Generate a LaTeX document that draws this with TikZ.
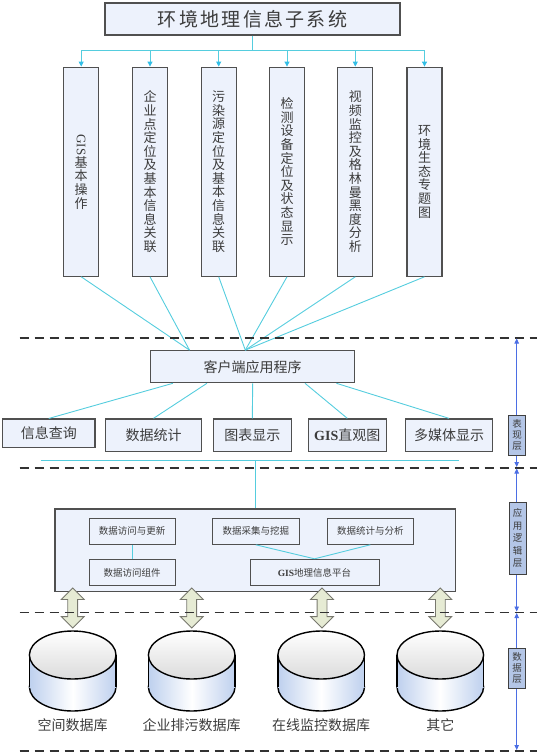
\documentclass[tikz,border=0pt]{standalone}
\usepackage{fontspec}
\setmainfont{Noto Sans CJK SC}
\newfontfamily\lat{Liberation Serif}
\newfontfamily\cjkwide{Noto Sans CJK SC}[LetterSpace=12]
\usetikzlibrary{arrows.meta,shapes.arrows,calc}
\definecolor{boxfill}{RGB}{237,242,252}
\definecolor{boxline}{RGB}{80,80,80}
\definecolor{txt}{RGB}{60,60,60}
\definecolor{cyanline}{RGB}{85,205,222}
\definecolor{cyanhead}{RGB}{50,190,230}
\definecolor{sepline}{RGB}{50,50,50}
\definecolor{layerblue}{RGB}{75,110,228}
\definecolor{layerfill}{RGB}{180,198,231}
\definecolor{cylblue}{RGB}{190,208,238}
\definecolor{fatfill}{RGB}{230,235,212}
\definecolor{fatline}{RGB}{120,120,110}
\newcommand\dbcyl[1]{%
  \draw[cylline, left color=cylblue, right color=cylblue, middle color=white] (#1,687) ellipse [x radius=43.3, y radius=24];
  \fill[left color=cylblue, right color=cylblue, middle color=white] (#1-43.3,655) rectangle (#1+43.3,687);
  \draw[cylline] (#1-43.3,655) -- (#1-43.3,687) (#1+43.3,655) -- (#1+43.3,687);
  \draw[cylline, top color=white, bottom color=gray!28] (#1,655) ellipse [x radius=43.3, y radius=24];
}
\begin{document}
\begin{tikzpicture}[x=1pt,y=-1pt,
  box/.style={draw=boxline, fill=boxfill, line width=1.2pt, text=txt, inner sep=0pt, align=center},
  vbox/.style={box, minimum width=35pt, minimum height=209pt, font=\fontsize{13}{13.6}\selectfont},
  rowbox/.style={box, minimum height=32.7pt, font=\fontsize{14}{14}\selectfont},
  smallbox/.style={box, minimum height=26pt, line width=1pt, font=\fontsize{9.5}{9.5}\selectfont},
  conn/.style={draw=cyanline, line width=0.9pt},
  tip/.style={-{Triangle[length=5pt,width=5pt,color=cyanhead]}},
  sep/.style={draw=sepline, line width=1.6pt, dash pattern=on 9.5pt off 5.5pt},
  layer/.style={draw=layerblue, line width=0.8pt, {Triangle[length=5pt,width=4.5pt]}-{Triangle[length=5pt,width=4.5pt]}},
  layerbox/.style={draw=black!75, fill=layerfill, line width=0.8pt, inner sep=0pt, minimum width=17pt, text=txt, align=center, font=\fontsize{9.5}{11}\selectfont},
  fat/.style={double arrow, shape border rotate=90, draw=fatline, fill=fatfill, line width=0.8pt, inner sep=4.5pt, minimum height=40pt, double arrow head extend=6.5pt},
  cylline/.style={draw=black, line width=1.4pt},
  dblabel/.style={text=txt, font=\fontsize{14}{14}\selectfont}
]
\useasboundingbox (0,0) rectangle (537,754);

% title and top boxes
\node[box, minimum width=295pt, minimum height=32pt, font=\cjkwide\fontsize{19}{19}\selectfont] (title) at (252.5,19) {环境地理信息子系统};
\node[vbox] (b1) at (81.2,171.7) {\rotatebox{-90}{\lat GIS}\\基\\本\\操\\作};
\node[vbox] (b2) at (150,171.7) {企\\业\\点\\定\\位\\及\\基\\本\\信\\息\\关\\联};
\node[vbox] (b3) at (218.7,171.7) {污\\染\\源\\定\\位\\及\\基\\本\\信\\息\\关\\联};
\node[vbox] (b4) at (287,171.7) {检\\测\\设\\备\\定\\位\\及\\状\\态\\显\\示};
\node[vbox] (b5) at (355.3,171.7) {视\\频\\监\\控\\及\\格\\林\\曼\\黑\\度\\分\\析};
\node[vbox] (b6) at (424.5,171.7) {环\\境\\生\\态\\专\\题\\图};

\coordinate (tbus) at (0,50.7);
\draw[conn] (title.south) -- (title.south |- tbus);
\draw[conn] (b1.north |- tbus) -- (b6.north |- tbus);
\foreach \b in {b1,b2,b3,b4,b5,b6} {\draw[conn, tip] (\b.north |- tbus) -- (\b.north);}

% client
\node[box, minimum width=204pt, minimum height=32pt, font=\fontsize{14}{14}\selectfont] (client) at (252.7,366.7) {客户端应用程序};
\coordinate (cA) at ($(client.north west)!0.192!(client.north east)$);
\coordinate (cB) at ($(client.north west)!0.464!(client.north east)$);
\draw[conn] (b1.south) -- (cA);
\draw[conn] (b2.south) -- (cA);
\foreach \b in {b3,b4,b5,b6} {\draw[conn] (\b.south) -- (cB);}

% row 2
\node[rowbox, minimum width=92.3pt, minimum height=28.3pt] (r1) at (48.8,433.2) {信息查询};
\node[rowbox, minimum width=96.4pt] (r2) at (153.5,435.3) {数据统计};
\node[rowbox, minimum width=78pt] (r3) at (252.3,435.3) {图表显示};
\node[rowbox, minimum width=78pt] (r4) at (347.3,435.3) {{\lat\bfseries GIS}直观图};
\node[rowbox, minimum width=87.4pt] (r5) at (449,435.3) {多媒体显示};
\draw[conn] ($(client.south west)!0.111!(client.south east)$) -- (r1.north);
\draw[conn] ($(client.south west)!0.277!(client.south east)$) -- (r2.north);
\draw[conn] (client.south) -- (r3.north);
\draw[conn] ($(client.south west)!0.755!(client.south east)$) -- (r4.north);
\draw[conn] ($(client.south west)!0.908!(client.south east)$) -- (r5.north);

% logic layer
\coordinate (busL) at (40.7,460.7);
\coordinate (busR) at (458.7,460.7);
\node[box, line width=1.1pt, minimum width=400.7pt, minimum height=82.7pt] (logic) at (255.3,550.3) {};
\draw[conn] (busL) -- (busR);
\draw[conn] (logic.north |- busL) -- (logic.north);
\node[smallbox, minimum width=85.7pt] (l1) at (132.2,531.3) {数据访问与更新};
\node[smallbox, minimum width=87pt] (l2) at (255.8,531.3) {数据采集与挖掘};
\node[smallbox, minimum width=86pt] (l3) at (370.3,531.3) {数据统计与分析};
\node[smallbox, minimum width=85.7pt, minimum height=26.4pt] (l4) at (132.2,572.5) {数据访问组件};
\node[smallbox, minimum width=129pt, minimum height=26.4pt] (l5) at (314.5,572.5) {{\lat\bfseries GIS}地理信息平台};
\draw[conn] (l1.south) -- (l4.north);
\draw[conn] (l2.south) -- (l5.north);
\draw[conn] (l3.south) -- (l5.north);

% databases
\dbcyl{72.7}
\dbcyl{191.7}
\dbcyl{321.2}
\dbcyl{440.3}
\node[dblabel] (d1) at (72.7,725) {空间数据库};
\node[dblabel] (d2) at (191.7,725) {企业排污数据库};
\node[dblabel] (d3) at (321.2,725) {在线监控数据库};
\node[dblabel] (d4) at (440.3,725) {其它};

\node[fat] (f1) at (72.7,608) {};
\node[fat] (f2) at (191.7,608) {};
\node[fat] (f3) at (322,608) {};
\node[fat] (f4) at (440.3,608) {};

% separators
\coordinate (s1L) at (19.5,337.7); \coordinate (s1R) at (537,337.7);
\coordinate (s2L) at (19.5,467.7); \coordinate (s2R) at (537,467.7);
\coordinate (s3L) at (19.5,612.3); \coordinate (s3R) at (537,612.3);
\coordinate (s4L) at (19.5,751); \coordinate (s4R) at (537,751);
\draw[sep] (s1L) -- (s1R);
\draw[sep] (s2L) -- (s2R);
\draw[sep] (s3L) -- (s3R);
\draw[sep] (s4L) -- (s4R);

% layer markers
\coordinate (a1t) at (516.7,338.5); \coordinate (a1b) at (516.7,467);
\coordinate (a2t) at (516.7,468.5); \coordinate (a2b) at (516.7,611.5);
\coordinate (a3t) at (516.7,613); \coordinate (a3b) at (516.7,750);
\draw[layer] (a1t) -- (a1b);
\draw[layer] (a2t) -- (a2b);
\draw[layer] (a3t) -- (a3b);
\node[layerbox, minimum height=40pt] (L1) at (517,435) {表\\现\\层};
\node[layerbox, minimum height=71.3pt, font=\fontsize{9.5}{12.5}\selectfont] (L2) at (517.5,538.3) {应\\用\\逻\\辑\\层};
\node[layerbox, minimum height=40pt] (L3) at (517,668.3) {数\\据\\层};
\end{tikzpicture}
\end{document}
